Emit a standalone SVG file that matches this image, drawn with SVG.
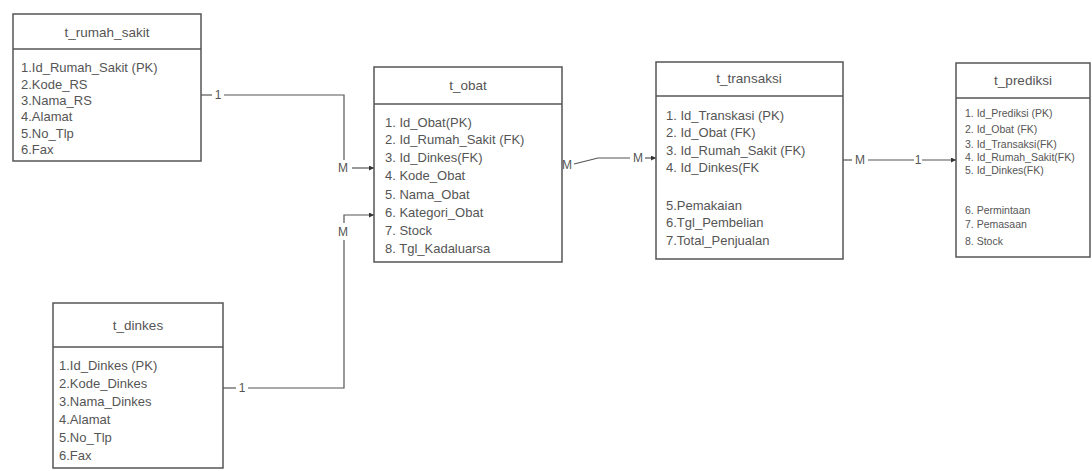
<svg xmlns="http://www.w3.org/2000/svg" width="1092" height="471" viewBox="0 0 1092 471">
<defs>
<marker id="arr" viewBox="0 0 6 6" refX="6" refY="3" markerWidth="5" markerHeight="5" orient="auto" markerUnits="userSpaceOnUse">
<path d="M0,0 L6,3 L0,6 z" fill="#333"/>
</marker>
</defs>
<style>
.box{fill:#fff;stroke:#555;stroke-width:1.5}
.sep{stroke:#555;stroke-width:1.5}
text{font-family:"Liberation Sans",Arial,sans-serif;fill:#555;font-size:13px}
.t{text-anchor:middle;font-size:13.5px}
.s{font-size:10.5px}
.c{fill:none;stroke:#555;stroke-width:1.2}
.lb{font-size:12px;text-anchor:middle}
</style>
<rect width="1092" height="471" fill="#fff"/>
<g id="connectors">
<polyline class="c" points="201,95 212,95"/>
<polyline class="c" points="224,95 344,95 344,160"/>
<polyline class="c" points="352,168 374,168" marker-end="url(#arr)"/>
<polyline class="c" points="223,388 236,388"/>
<polyline class="c" points="248,388 344,388 344,240"/>
<polyline class="c" points="344,223 344,215 374,215" marker-end="url(#arr)"/>
<polyline class="c" points="574,164 598,158 630,158"/>
<polyline class="c" points="645,158 656,158" marker-end="url(#arr)"/>
<polyline class="c" points="843,160 852,160"/>
<polyline class="c" points="868,160 914,160"/>
<polyline class="c" points="922,160 956,160" marker-end="url(#arr)"/>
<text class="lb" x="218" y="99">1</text>
<text class="lb" x="343" y="172">M</text>
<text class="lb" x="242" y="392">1</text>
<text class="lb" x="343" y="236">M</text>
<text class="lb" x="567" y="169">M</text>
<text class="lb" x="638" y="162">M</text>
<text class="lb" x="860" y="164">M</text>
<text class="lb" x="918" y="164">1</text>
</g>
<g id="t_rumah_sakit">
<rect class="box" x="13" y="14" width="188" height="147"/>
<line class="sep" x1="13" y1="49" x2="201" y2="49"/>
<text class="t" x="107" y="37">t_rumah_sakit</text>
<text x="21" y="72">1.Id_Rumah_Sakit (PK)</text>
<text x="21" y="89">2.Kode_RS</text>
<text x="21" y="105">3.Nama_RS</text>
<text x="21" y="121">4.Alamat</text>
<text x="21" y="138">5.No_Tlp</text>
<text x="21" y="154">6.Fax</text>
</g>
<g id="t_dinkes">
<rect class="box" x="53" y="303" width="170" height="165"/>
<line class="sep" x1="53" y1="347" x2="223" y2="347"/>
<text class="t" x="138" y="330">t_dinkes</text>
<text x="59" y="370">1.Id_Dinkes (PK)</text>
<text x="59" y="388">2.Kode_Dinkes</text>
<text x="59" y="406">3.Nama_Dinkes</text>
<text x="59" y="424">4.Alamat</text>
<text x="59" y="442">5.No_Tlp</text>
<text x="59" y="460">6.Fax</text>
</g>
<g id="t_obat">
<rect class="box" x="374" y="67" width="188" height="195"/>
<line class="sep" x1="374" y1="104" x2="562" y2="104"/>
<text class="t" x="468" y="90">t_obat</text>
<text x="385" y="127">1. Id_Obat(PK)</text>
<text x="385" y="144">2. Id_Rumah_Sakit (FK)</text>
<text x="385" y="162">3. Id_Dinkes(FK)</text>
<text x="385" y="180">4. Kode_Obat</text>
<text x="385" y="199">5. Nama_Obat</text>
<text x="385" y="217">6. Kategori_Obat</text>
<text x="385" y="235">7. Stock</text>
<text x="385" y="253">8. Tgl_Kadaluarsa</text>
</g>
<g id="t_transaksi">
<rect class="box" x="656" y="62" width="187" height="197"/>
<line class="sep" x1="656" y1="96" x2="843" y2="96"/>
<text class="t" x="749" y="83">t_transaksi</text>
<text x="666" y="120">1. Id_Transkasi (PK)</text>
<text x="666" y="137">2. Id_Obat (FK)</text>
<text x="666" y="155">3. Id_Rumah_Sakit (FK)</text>
<text x="666" y="172">4. Id_Dinkes(FK</text>
<text x="666" y="210">5.Pemakaian</text>
<text x="666" y="227">6.Tgl_Pembelian</text>
<text x="666" y="245">7.Total_Penjualan</text>
</g>
<g id="t_prediksi">
<rect class="box" x="956" y="63" width="134" height="194"/>
<line class="sep" x1="956" y1="98" x2="1090" y2="98"/>
<text class="t" x="1023" y="85">t_prediksi</text>
<text class="s" x="965" y="117">1. Id_Prediksi (PK)</text>
<text class="s" x="965" y="133">2. Id_Obat (FK)</text>
<text class="s" x="965" y="148">3. Id_Transaksi(FK)</text>
<text class="s" x="965" y="161">4. Id_Rumah_Sakit(FK)</text>
<text class="s" x="965" y="174">5. Id_Dinkes(FK)</text>
<text class="s" x="965" y="214">6. Permintaan</text>
<text class="s" x="965" y="228">7. Pemasaan</text>
<text class="s" x="965" y="245">8. Stock</text>
</g>
</svg>
